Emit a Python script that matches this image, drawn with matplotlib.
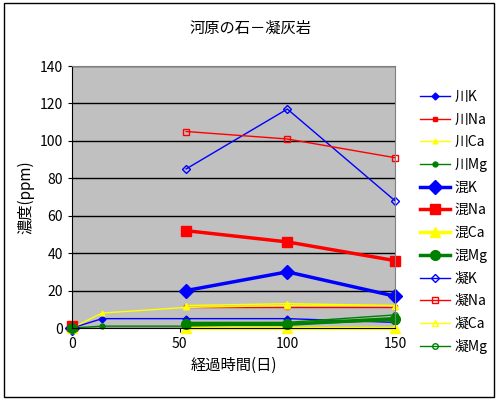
import numpy as np
import matplotlib.pyplot as plt

plt.rcParams['font.family'] = ['Noto Sans CJK JP', 'DejaVu Sans']

nan = np.nan
days = [0, 14, 53, 100, 150]

kawa_K = [0, 5, 5, 5, 3]
kawa_Na = [1, nan, 11, 11, 11]
kawa_Ca = [0, 8, 11, 12, 12]
kawa_Mg = [0, 1, 1, 2, 4]

kon_K = [0, nan, 20, 30, 17]
kon_Na = [1, nan, 52, 46, 36]
kon_Ca = [0, nan, 0, 0, 0]
kon_Mg = [0, nan, 2, 2, 5]

gyo_K = [nan, nan, 85, 117, 68]
gyo_Na = [nan, nan, 105, 101, 91]
gyo_Ca = [nan, nan, 12, 13, 12]
gyo_Mg = [nan, nan, 3, 3, 7]

labels = ['川K', '川Na', '川Ca', '川Mg', '混K', '混Na', '混Ca', '混Mg',
          '凝K', '凝Na', '凝Ca', '凝Mg']
series = [kawa_K, kawa_Na, kawa_Ca, kawa_Mg, kon_K, kon_Na, kon_Ca, kon_Mg,
          gyo_K, gyo_Na, gyo_Ca, gyo_Mg]
colors = ['#0000ff', '#ff0000', '#ffff00', '#008000'] * 3
marks = ['D', 's', '^', 'o'] * 3

fig = plt.figure(figsize=(5, 4), dpi=100)
ax = fig.add_axes([0.144, 0.18, 0.646, 0.655])
ax.set_facecolor('#c0c0c0')

for i, (lab, vals) in enumerate(zip(labels, series)):
    c = colors[i]
    m = marks[i]
    if i < 4:
        ax.plot(days, vals, color=c, marker=m, ms=3.5, lw=1, label=lab,
                clip_on=False)
    elif i < 8:
        ax.plot(days, vals, color=c, marker=m, ms=7, lw=2.5, label=lab,
                clip_on=False)
    else:
        ax.plot(days, vals, color=c, marker=m, ms=4, lw=1, mfc='none',
                mec=c, label=lab, clip_on=False)

ax.set_xlim(0, 150)
ax.set_ylim(0, 140)
ax.set_xticks([0, 50, 100, 150])
ax.set_yticks(range(0, 141, 20))
ax.yaxis.grid(True, color='black', lw=1)
ax.set_axisbelow(True)
ax.tick_params(labelsize=10, length=3)
for s in ['top', 'right']:
    ax.spines[s].set_color('#808080')
ax.set_xlabel('経過時間(日)', fontsize=11)
ax.set_ylabel('濃度(ppm)', fontsize=11)
fig.text(0.5, 0.93, '河原の石－凝灰岩', ha='center', va='center', fontsize=11)

ax.legend(loc='upper left', bbox_to_anchor=(1.055, 0.935), frameon=False,
          fontsize=10, handlelength=2.2, labelspacing=0.62, borderpad=0,
          handletextpad=0.3)

fig.patches.append(plt.Rectangle((0.008, 0.008), 0.98, 0.985, fill=False,
                                 ec='black', lw=1, transform=fig.transFigure))
fig.savefig('out.png', dpi=100)
